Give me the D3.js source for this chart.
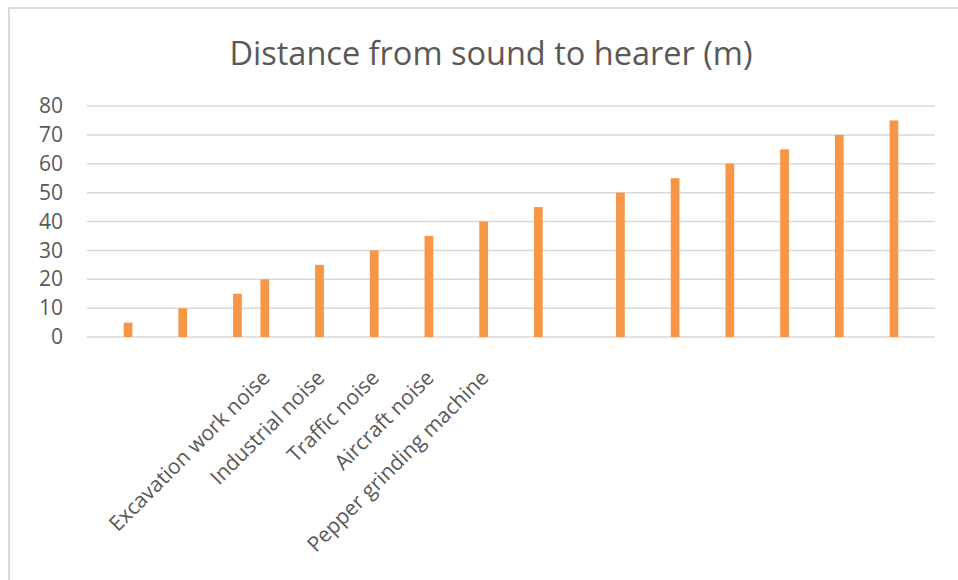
<!DOCTYPE html>
<html>
<head>
<meta charset="utf-8">
<script src="https://cdn.jsdelivr.net/npm/d3@7"></script>
<style>
  body { margin: 0; background: #fff; }
  svg text { font-family: "Open Sans", sans-serif; fill: #595959; }
</style>
</head>
<body>
<div id="app"></div>
<script>
// 31 category slots, most of them have no label and no value
const labels = ["", "", "", "", "", "", "Excavation work noise", "", "Industrial noise", "",
    "Traffic noise", "", "Aircraft noise", "", "Pepper grinding machine", "", "", "", "", "",
    "", "", "", "", "", "", "", "", "", "", ""];
const values = [null, 5, null, 10, null, 15, 20, null, 25, null,
    30, null, 35, null, 40, null, 45, null, null, 50,
    null, 55, null, 60, null, 65, null, 70, null, 75, null];
const yTicks = [0, 10, 20, 30, 40, 50, 60, 70, 80];
const title = "Distance from sound to hearer (m)";

const width = 958, height = 580;
const plotLeft = 87, plotRight = 935, plotTop = 106, plotBottom = 337;

const svg = d3.select("#app").append("svg")
    .attr("width", width)
    .attr("height", height);

// chart frame
svg.append("rect")
    .attr("x", 9).attr("y", 8)
    .attr("width", 1000).attr("height", 1000)
    .attr("fill", "#fff")
    .attr("stroke", "#d9d9d9")
    .attr("stroke-width", 2);

svg.append("text")
    .attr("x", 491).attr("y", 65)
    .attr("text-anchor", "middle")
    .style("font-size", "32.5px")
    .text(title);

const idx = d3.range(labels.length);

const x = d3.scaleBand()
    .domain(idx)
    .range([plotLeft, plotRight])
    .paddingInner(0.68)
    .paddingOuter(0.34);

const y = d3.scaleLinear()
    .domain([0, 80])
    .range([plotBottom, plotTop]);

// gridlines
svg.append("g")
    .selectAll("line")
    .data(yTicks)
    .enter().append("line")
        .attr("x1", plotLeft).attr("x2", plotRight)
        .attr("y1", d => y(d)).attr("y2", d => y(d))
        .attr("stroke", "#d9d9d9")
        .attr("stroke-width", 1.5);

// y axis labels
let yAxis = svg.append("g")
    .attr("transform", "translate(" + (plotLeft - 24) + ",0)")
    .call(d3.axisLeft(y).tickValues(yTicks).tickSize(0).tickPadding(0));
yAxis.select(".domain").remove();
yAxis.selectAll("text")
    .style("font-size", "21px")
    .attr("fill", "#595959");

// bars
svg.append("g")
    .selectAll("rect")
    .data(idx.filter(i => values[i] != null))
    .enter().append("rect")
        .attr("x", i => x(i))
        .attr("y", i => y(values[i]))
        .attr("width", x.bandwidth())
        .attr("height", i => y(0) - y(values[i]))
        .attr("fill", "#F79646");

// category labels, rotated
svg.append("g")
    .selectAll("text")
    .data(idx.filter(i => labels[i] !== ""))
    .enter().append("text")
        .attr("transform", i => "translate(" + (x(i) + x.bandwidth() / 2 + 1) + "," + (plotBottom + 37) + ") rotate(-45)")
        .attr("text-anchor", "end")
        .attr("dy", "0.35em")
        .style("font-size", "21px")
        .text(i => labels[i]);
</script>
</body>
</html>
